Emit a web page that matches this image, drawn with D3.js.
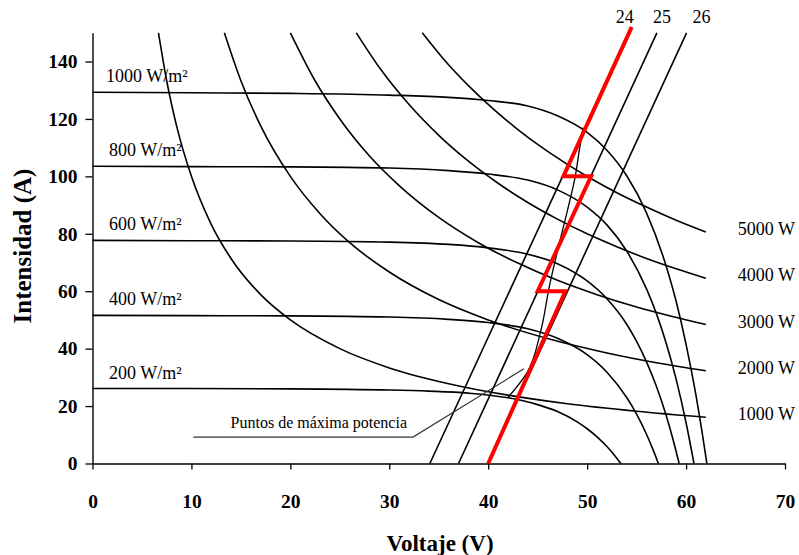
<!DOCTYPE html>
<html><head><meta charset="utf-8">
<script src="https://cdn.jsdelivr.net/npm/d3@7"></script>
<style>body{margin:0;background:#fff}svg{display:block}</style>
</head><body><svg id="c" width="799" height="555"></svg>
<script>
// ---- data (Voltaje V, Intensidad A) ----
const xTicks = [0,10,20,30,40,50,60,70];
const yTicks = [0,20,40,60,80,100,120,140];
const irradianceLabels = ["1000 W/m²","800 W/m²","600 W/m²","400 W/m²","200 W/m²"];
const iv1000 = [[0,129.3],[10,129.1],[20,128.9],[30,128.3],[36,127.5],[40,126.4],[44,124.5],[47,121.1],[50,115.3],[52,109.1],[54,100.2],[56,87.3],[58,68.6],[59,56.4],[60,41.5],[61,23.8],[61.6,11.4],[62.1,0]];
const iv800 = [[0,103.5],[10,103.4],[20,103.3],[30,102.9],[36,102.0],[40,100.8],[44,98.7],[47,95.3],[50,89.3],[52,83.1],[54,74.0],[56,60.8],[57,52.2],[58,41.8],[59,29.3],[60,14.2],[60.8,0]];
const iv600 = [[0,77.7],[10,77.6],[20,77.5],[30,77.1],[36,76.3],[40,75.1],[44,72.9],[47,69.6],[50,63.6],[52,57.4],[54,48.5],[55,42.5],[56,35.4],[57,26.9],[58,16.6],[58.7,8.1],[59.3,0]];
const iv400 = [[0,51.6],[10,51.5],[20,51.4],[30,51.0],[36,50.2],[40,49.1],[44,46.9],[47,43.6],[50,37.9],[52,31.8],[54,23.0],[55,17.2],[56,10.2],[56.7,4.5],[57.2,0]];
const iv200 = [[0,26.1],[10,26.1],[20,26.0],[30,25.6],[34,25.2],[38,24.5],[42,22.9],[45,20.5],[47,18.1],[49,14.5],[50,12.1],[51,9.3],[52,5.9],[52.8,2.7],[53.4,0]];

const powerLabels = ["1000 W","2000 W","3000 W","4000 W","5000 W"];
const p1000 = [[6.67,150],[7.5,133.3],[8.5,117.6],[10,100],[12,83.3],[14,71.4],[17,58.8],[20,50],[25,40],[30,33.3],[36,27.8],[42,23.8],[48,20.8],[55,18.2],[62,16.1]];
const p2000 = [[13.33,150],[15,133.3],[17,117.6],[20,100],[23,87],[26,76.9],[30,66.7],[35,57.1],[40,50],[46,43.5],[52,38.5],[57,35.1],[62,32.3]];
const p3000 = [[20,150],[22.5,133.3],[25,120],[28,107.1],[31,96.8],[35,85.7],[39,76.9],[43,69.8],[47,63.8],[51,58.8],[55,54.5],[58.5,51.3],[62,48.4]];
const p4000 = [[26.67,150],[29,137.9],[32,125],[35,114.3],[38,105.3],[41,97.6],[44,90.9],[47,85.1],[50,80],[53,75.5],[56,71.4],[59,67.8],[62,64.5]];
const p5000 = [[33.33,150],[35.5,140.8],[38,131.6],[40.5,123.5],[43,116.3],[45.5,109.9],[48,104.2],[50.5,99],[53,94.3],[56,89.3],[59,84.7],[62,80.6]];

const moduleLabels = ["24","25","26"];
const line24 = [[34.1,0],[54.5,152]];
const line25 = [[37.0,0],[57.05,150]];
const line26 = [[40.0,0],[60.05,150]];
const redPath = [[40,0],[47.8,60],[45.0,60],[50.4,100],[47.6,100],[54.5,152]];
const mppCurve = [[42.0,23],[43.9,31.5],[45.3,46],[46.2,62],[47.0,74],[48.0,88],[48.8,100],[49.2,109],[49.6,117]];
const pointer = [[10.2,9.2],[32.4,9.2],[43.6,33]];
const pointerLabel = "Puntos de máxima potencia";

// ---- drawing ----
const svg = d3.select("#c");
const serif = "'Liberation Serif','Times New Roman',serif";
const x = d3.scaleLinear().domain([0,70]).range([92.5,785]);
const y = d3.scaleLinear().domain([0,150]).range([463.5,32.8]);
const line = d3.line().x(d=>x(d[0])).y(d=>y(d[1]));
const smooth = d3.line().x(d=>x(d[0])).y(d=>y(d[1])).curve(d3.curveMonotoneX);

// axes
const gx = svg.append("g").attr("transform",`translate(0,${y(0)})`)
  .call(d3.axisBottom(x).tickValues(xTicks).tickSize(6).tickPadding(25).tickSizeOuter(0));
const gy = svg.append("g").attr("transform",`translate(${x(0)},0)`)
  .call(d3.axisLeft(y).tickValues(yTicks).tickSize(7).tickPadding(8).tickSizeOuter(0));
[gx,gy].forEach(g=>{
  g.select(".domain").attr("stroke","#000").attr("stroke-width",1.4);
  g.selectAll(".tick line").attr("stroke","#000").attr("stroke-width",1.3);
  g.selectAll(".tick text").attr("font-family",serif).attr("font-weight","bold")
    .attr("font-size",19.5).attr("fill","#000");
});

const curves = svg.append("g").attr("fill","none").attr("stroke","#000");
[iv1000,iv800,iv600,iv400,iv200].forEach(d=>curves.append("path").attr("d",smooth(d)).attr("stroke-width",1.6));
[p1000,p2000,p3000,p4000,p5000].forEach(d=>curves.append("path").attr("d",smooth(d)).attr("stroke-width",1.6));
[line24,line25,line26].forEach(d=>curves.append("path").attr("d",line(d)).attr("stroke-width",1.6));
curves.append("path").attr("d",d3.line().x(d=>x(d[0])).y(d=>y(d[1])).curve(d3.curveMonotoneY)(mppCurve)).attr("stroke-width",1.3);
curves.append("path").attr("d",line(pointer)).attr("stroke","#333").attr("stroke-width",1.1);

svg.append("path").attr("d",line(redPath)).attr("fill","none").attr("stroke","#ff0000")
  .attr("stroke-width",4).attr("stroke-linejoin","miter");

// irradiance labels
const ivs = [iv1000,iv800,iv600,iv400,iv200];
irradianceLabels.forEach((t,i)=>{
  svg.append("text").attr("x",i===0?106:109).attr("y",y(ivs[i][0][1])-10)
    .attr("font-family",serif).attr("font-size",18).text(t);
});
// power labels
const ps = [p1000,p2000,p3000,p4000,p5000];
powerLabels.forEach((t,i)=>{
  const last = ps[i][ps[i].length-1];
  svg.append("text").attr("x",x(last[0])+32).attr("y",y(last[1])+3)
    .attr("font-family",serif).attr("font-size",18).text(t);
});
// module labels
const lns = [line24,line25,line26];
const lOff = [-7,5,15];
moduleLabels.forEach((t,i)=>{
  svg.append("text").attr("x",x(lns[i][1][0])+lOff[i]).attr("y",23).attr("text-anchor","middle")
    .attr("font-family",serif).attr("font-size",18).text(t);
});
// pointer label
svg.append("text").attr("x",x(pointer[1][0])-6).attr("y",y(pointer[1][1])-9).attr("text-anchor","end")
  .attr("font-family",serif).attr("font-size",16).text(pointerLabel);

// titles
svg.append("text").attr("x",440).attr("y",551).attr("text-anchor","middle")
  .attr("font-family",serif).attr("font-weight","bold").attr("font-size",23).text("Voltaje (V)");
svg.append("text").attr("transform","translate(31,246) rotate(-90)").attr("text-anchor","middle")
  .attr("font-family",serif).attr("font-weight","bold").attr("font-size",25).text("Intensidad (A)");
</script></body></html>
